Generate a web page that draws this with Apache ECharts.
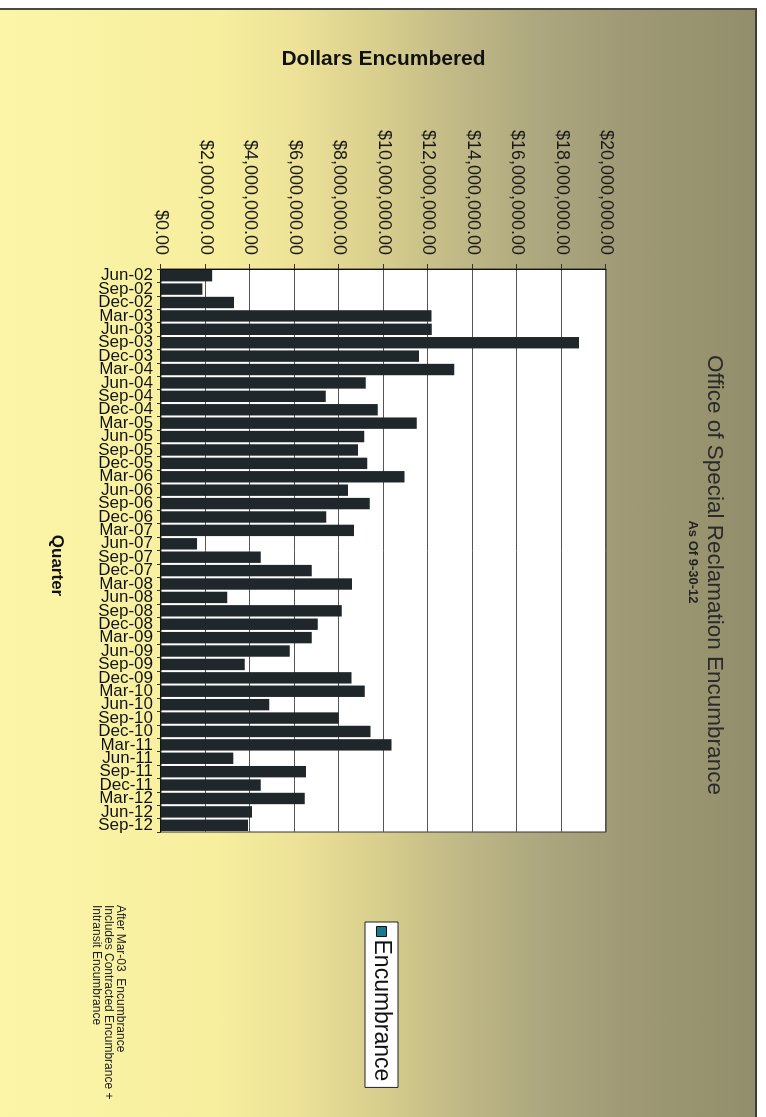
<!DOCTYPE html>
<html>
<head>
<meta charset="utf-8">
<script src="https://cdn.jsdelivr.net/npm/echarts@6/dist/echarts.min.js"></script>
<style>
  html, body { margin: 0; padding: 0; background: #fff; }
  body { width: 766px; height: 1117px; position: relative; overflow: hidden; font-family: "Liberation Sans", Arial, sans-serif; }
  /* scanned page background, in screen coordinates */
  .frame {
    position: absolute; left: 0; top: 8px; width: 755px; height: 1109px;
    border-top: 2px solid #4a4a40; border-right: 2px solid #3e3e36;
    background: linear-gradient(to right, #fcf5a8 0px, #f7ee9e 220px, #ece197 300px, #d8ce8d 380px, #c0b886 460px, #ada77f 540px, #a09b76 620px, #928e6b 757px);
  }
  /* chart is drawn upright, then turned 90deg clockwise like the scan */
  #chart {
    position: absolute; left: 0; top: 0; width: 1117px; height: 766px;
    transform-origin: 0 0; transform: translate(766px, 0) rotate(90deg);
  }
</style>
</head>
<body>
<div class="frame"></div>
<div id="chart"></div>
<script>
// quarters
const quarters = [
  'Jun-02', 'Sep-02', 'Dec-02',
  'Mar-03', 'Jun-03', 'Sep-03', 'Dec-03',
  'Mar-04', 'Jun-04', 'Sep-04', 'Dec-04',
  'Mar-05', 'Jun-05', 'Sep-05', 'Dec-05',
  'Mar-06', 'Jun-06', 'Sep-06', 'Dec-06',
  'Mar-07', 'Jun-07', 'Sep-07', 'Dec-07',
  'Mar-08', 'Jun-08', 'Sep-08', 'Dec-08',
  'Mar-09', 'Jun-09', 'Sep-09', 'Dec-09',
  'Mar-10', 'Jun-10', 'Sep-10', 'Dec-10',
  'Mar-11', 'Jun-11', 'Sep-11', 'Dec-11',
  'Mar-12', 'Jun-12', 'Sep-12'
];

// encumbrance in dollars
const encumbrance = [
  2300000, 1860000, 3280000,
  12160000, 12170000, 18790000, 11600000,
  13180000, 9200000, 7400000, 9740000,
  11490000, 9140000, 8850000, 9270000,
  10940000, 8400000, 9380000, 7430000,
  8670000, 1620000, 4480000, 6770000,
  8580000, 2980000, 8120000, 7040000,
  6780000, 5790000, 3760000, 8560000,
  9160000, 4870000, 7990000, 9420000,
  10360000, 3250000, 6520000, 4480000,
  6460000, 4090000, 3910000
];

const valueMin = 0;
const valueMax = 20000000;
const valueStep = 2000000;

const noteLines = [
  'After Mar-03  Encumbrance',
  'Includes Contracted Encumbrance +',
  'Intransit Encumbrance'
];

const fontFam = '"Liberation Sans", Arial, sans-serif';

const money = v => '$' + v.toFixed(2).replace(/\B(?=(\d{3})+(?!\d))/g, ',');

const chart = echarts.init(document.getElementById('chart'), null, { renderer: 'canvas' });

const option = {
  backgroundColor: 'transparent',
  textStyle: { fontFamily: fontFam },
  title: [
    {
      text: 'Office of Special Reclamation Encumbrance',
      left: 570,
      top: 35,
      textAlign: 'center',
      textStyle: { fontSize: 22.5, fontWeight: 'normal', color: '#2a2a2a', fontFamily: fontFam }
    },
    {
      text: 'As Of 9-30-12',
      left: 557,
      top: 62,
      textAlign: 'center',
      textStyle: { fontSize: 13, fontWeight: 'bold', color: '#222', fontFamily: fontFam }
    }
  ],
  legend: {
    data: [{ name: 'Encumbrance', itemStyle: { color: '#18798c', borderColor: '#111', borderWidth: 1 } }],
    left: 922,
    top: 368,
    orient: 'horizontal',
    icon: 'rect',
    itemWidth: 10,
    itemHeight: 10,
    itemGap: 4,
    padding: [5, 6, 5, 4],
    backgroundColor: '#fff',
    borderColor: '#222',
    borderWidth: 1,
    textStyle: { fontSize: 23, color: '#111', fontFamily: fontFam, padding: [0, 0, 0, -2] }
  },
  grid: {
    left: 269,
    right: 285,
    top: 160,
    bottom: 161,
    show: true,
    backgroundColor: '#fff',
    borderColor: '#333',
    borderWidth: 1
  },
  xAxis: {
    type: 'category',
    data: quarters,
    name: 'Quarter',
    nameLocation: 'middle',
    nameGap: 96,
    nameTextStyle: { fontSize: 17, fontWeight: 'bold', color: '#111', padding: [0, 0, 0, 30] },
    axisLine: { lineStyle: { color: '#111', width: 1 } },
    axisTick: { show: true, length: 4, lineStyle: { color: '#333' } },
    axisLabel: {
      interval: 0,
      rotate: 90,
      margin: 8,
      fontSize: 17,
      color: '#111',
      fontFamily: fontFam
    }
  },
  yAxis: {
    type: 'value',
    min: valueMin,
    max: valueMax,
    interval: valueStep,
    name: 'Dollars Encumbered',
    nameLocation: 'middle',
    nameGap: 199,
    nameTextStyle: { fontSize: 21, fontWeight: 'bold', color: '#111' },
    axisLine: { show: true, lineStyle: { color: '#111', width: 1 } },
    axisTick: { show: true, length: 5, lineStyle: { color: '#333' } },
    axisLabel: {
      margin: 14,
      fontSize: 18,
      color: '#1a1a1a',
      fontFamily: fontFam,
      formatter: money
    },
    splitLine: { show: true, lineStyle: { color: '#555', width: 1 } }
  },
  graphic: [
    {
      type: 'text',
      left: 905,
      top: 640,
      style: {
        text: noteLines.join('\n'),
        font: '12px ' + fontFam,
        lineHeight: 12,
        fill: '#222'
      }
    }
  ],
  series: [
    {
      name: 'Encumbrance',
      type: 'bar',
      data: encumbrance,
      barCategoryGap: '15%',
      itemStyle: { color: '#1f272a' },
      animation: false
    }
  ],
  animation: false
};

chart.setOption(option);
</script>
</body>
</html>
